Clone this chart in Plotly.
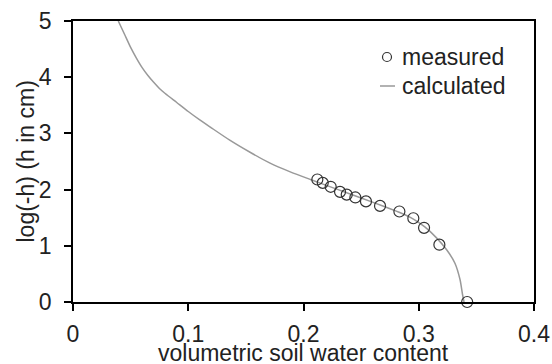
import plotly.graph_objects as go

# measured points
meas_x = [0.212, 0.2167, 0.2236, 0.2317, 0.2375, 0.245, 0.2542, 0.2664, 0.2832, 0.2953, 0.3046, 0.3179, 0.342]
meas_y = [2.18, 2.12, 2.05, 1.96, 1.91, 1.86, 1.79, 1.71, 1.61, 1.49, 1.32, 1.02, 0.0]

# calculated curve
calc_x = [0.0393, 0.045, 0.050, 0.055, 0.060, 0.065, 0.070, 0.075, 0.080, 0.090,
          0.100, 0.110, 0.120, 0.136, 0.154, 0.171, 0.188, 0.206, 0.230, 0.250,
          0.270, 0.285, 0.295, 0.305, 0.315, 0.3242, 0.3314, 0.3358, 0.3381, 0.3393]
calc_y = [5.00, 4.75, 4.53, 4.34, 4.17, 4.03, 3.91, 3.80, 3.71, 3.55,
          3.39, 3.24, 3.10, 2.88, 2.66, 2.47, 2.32, 2.18, 2.00, 1.85,
          1.70, 1.58, 1.48, 1.34, 1.15, 0.93, 0.69, 0.40, 0.12, 0.0]

x_ticks = [0, 0.1, 0.2, 0.3, 0.4]
y_ticks = [0, 1, 2, 3, 4, 5]
x_title = "volumetric soil water content"
y_title = "log(-h) (h in cm)"
legend_names = ["measured", "calculated"]

FONT = "Liberation Sans, Arial, sans-serif"
TXT = "#222222"
FS = 23

fig = go.Figure()
fig.add_trace(go.Scatter(x=calc_x, y=calc_y, mode="lines", name=legend_names[1],
                         line=dict(color="#999999", width=1.5, shape="spline", smoothing=0.7),
                         showlegend=False, cliponaxis=False))
fig.add_trace(go.Scatter(x=meas_x, y=meas_y, mode="markers", name=legend_names[0],
                         marker=dict(symbol="circle-open", size=11, color="#333333",
                                     line=dict(width=1.2, color="#333333")),
                         showlegend=False, cliponaxis=False))

axis_common = dict(showline=True, linecolor="black", linewidth=1.5, mirror=True,
                   ticks="outside", ticklen=7, tickwidth=1.5, tickcolor="black",
                   showgrid=False, zeroline=False, automargin=False,
                   tickfont=dict(family=FONT, size=FS, color=TXT))

fig.update_layout(
    width=552, height=364,
    margin=dict(l=73, r=18, t=21, b=62),
    plot_bgcolor="white", paper_bgcolor="white",
    font=dict(family=FONT, size=FS, color=TXT),
    xaxis=dict(range=[0, 0.4], tickvals=x_ticks, ticktext=[str(v) for v in x_ticks],
               ticklabelstandoff=4, **axis_common),
    yaxis=dict(range=[0, 5], tickvals=y_ticks, ticktext=[str(v) for v in y_ticks],
               ticklabelstandoff=8, **axis_common),
)

def px2paper(px, py):
    return (px - 73) / 461.0, (302 - py) / 281.0

# axis titles
_, ty = px2paper(0, 353)
fig.add_annotation(xref="paper", yref="paper", x=0.5, y=ty, text=x_title,
                   showarrow=False, xanchor="center", yanchor="middle",
                   font=dict(family=FONT, size=FS, color=TXT))
tyx, _ = px2paper(25, 0)
fig.add_annotation(xref="paper", yref="paper", x=tyx, y=0.5, text=y_title, textangle=-90,
                   showarrow=False, xanchor="center", yanchor="middle",
                   font=dict(family=FONT, size=FS, color=TXT))

# manual legend
cx, cy = px2paper(387, 57)
rx, ry = 4.5 / 461.0, 4.5 / 281.0
fig.add_shape(type="circle", xref="paper", yref="paper",
              x0=cx - rx, x1=cx + rx, y0=cy - ry, y1=cy + ry,
              line=dict(color="#333333", width=1.2))
lx0, ly = px2paper(380, 86)
lx1, _ = px2paper(395, 86)
fig.add_shape(type="line", xref="paper", yref="paper",
              x0=lx0, x1=lx1, y0=ly, y1=ly, line=dict(color="#999999", width=1.5))
tx, _ = px2paper(400, 0)
fig.add_annotation(xref="paper", yref="paper", x=tx, y=cy, text=legend_names[0],
                   showarrow=False, xanchor="left", yanchor="middle",
                   font=dict(family=FONT, size=FS, color=TXT))
fig.add_annotation(xref="paper", yref="paper", x=tx, y=ly, text=legend_names[1],
                   showarrow=False, xanchor="left", yanchor="middle",
                   font=dict(family=FONT, size=FS, color=TXT))

fig.write_html("out.html")
